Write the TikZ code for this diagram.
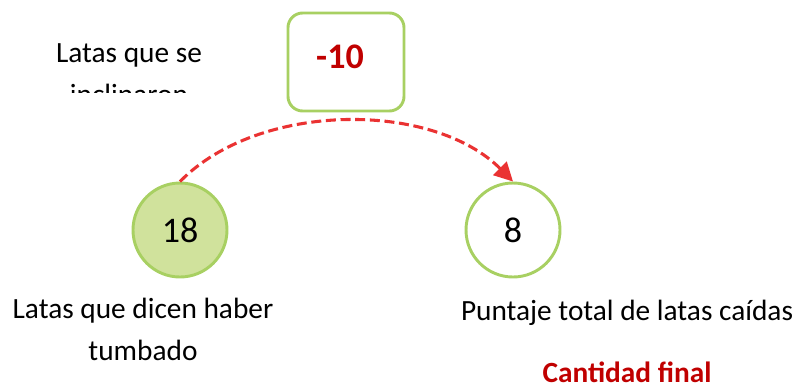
\documentclass[tikz,border=0pt]{standalone}
\usepackage{fontspec}
\setmainfont{Carlito}
\usetikzlibrary{arrows.meta}
\definecolor{gstroke}{RGB}{168,208,98}
\definecolor{gfill}{RGB}{208,226,156}
\definecolor{darkred}{RGB}{192,0,0}
\definecolor{arrowred}{RGB}{234,50,50}
\tikzset{
  lbl/.style={inner sep=0pt, anchor=base, font=\fontsize{22}{26}\selectfont},
  redlbl/.style={inner sep=0pt, anchor=base, text=darkred, font=\fontsize{22}{26}\selectfont\bfseries},
  numcircle/.style={circle, draw=gstroke, line width=2.2pt, minimum size=94*0.75pt, inner sep=0pt, font=\fontsize{27}{30}\selectfont},
  valbox/.style={rectangle, rounded corners=11pt, draw=gstroke, line width=2.2pt, minimum width=116*0.75pt, minimum height=98*0.75pt, inner sep=0pt},
  flow/.style={draw=arrowred, line width=2.3pt, dash pattern=on 7.5pt off 3.5pt, -{Triangle[length=14pt,width=14pt]}}
}
\begin{document}
\begin{tikzpicture}[x=0.75pt,y=-0.75pt]
\useasboundingbox (0,0) rectangle (799,390);
% value box
\node[valbox] (box) at (346,62) {};
\node[redlbl, font=\fontsize{27}{30}\selectfont\bfseries] (m10) at (340,68) {-10};
% clipped label
\begin{scope}
\clip (0,0) rectangle (280,92);
\node[lbl] (l1) at (129,62) {Latas que se};
\node[lbl] (l2) at (129,104) {inclinaron};
\end{scope}
% circles
\node[numcircle, fill=gfill] (c18) at (180,230) {18};
\node[numcircle, fill=white] (c8) at (513,230) {8};
% arrow
\draw[flow] (c18.north) .. controls (259,101) and (433,101) .. (c8.north);
% bottom labels
\node[lbl] (b1) at (143,318) {Latas que dicen haber};
\node[lbl] (b2) at (143,360) {tumbado};
\node[lbl] (b3) at (627,320) {Puntaje total de latas caídas};
\node[redlbl] (b4) at (627,382) {Cantidad final};
\end{tikzpicture}
\end{document}
